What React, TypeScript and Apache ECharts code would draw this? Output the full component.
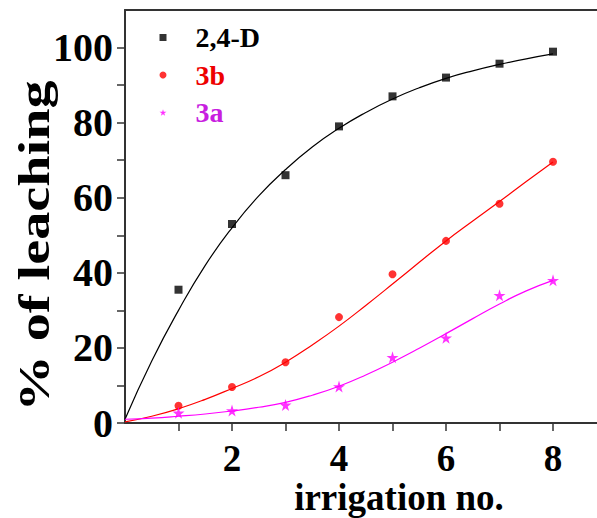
import React, { useEffect, useRef } from "react";
import * as echarts from "echarts";

const irrigation = [1, 2, 3, 4, 5, 6, 7, 8];
const d24 = [35.5, 53, 66, 79, 87, 92, 95.7, 98.9];
const s3b = [4.6, 9.6, 16.2, 28.2, 39.6, 48.5, 58.4, 69.6];
const s3a = [2.7, 3.3, 4.8, 9.7, 17.5, 22.7, 34, 38];

const fitX = [0, 0.5, 1, 1.5, 2, 2.5, 3, 3.5, 4, 4.5, 5, 5.5, 6, 6.5, 7, 7.5, 8];
const fit24 = [1, 16.5, 30, 42, 52, 60.5, 67.5, 73.5, 78.5, 82.7, 86.3, 89.3, 91.8, 93.8, 95.5, 97, 98.3];
const fit3b = [0.3, 1.8, 3.8, 6.3, 9.2, 12.3, 16.2, 20.8, 25.8, 31.3, 37, 42.8, 48.5, 53.8, 59, 64.3, 69.5];
const fit3a = [1, 1.3, 1.8, 2.4, 3.2, 4.2, 5.5, 7.4, 9.8, 12.8, 16.2, 19.9, 23.8, 27.8, 31.7, 35.2, 38];

const xTickValues = [1, 2, 3, 4, 5, 6, 7, 8];
const xLabelValues = [2, 4, 6, 8];
const yTickValues = [0, 10, 20, 30, 40, 50, 60, 70, 80, 90, 100];
const yLabelValues = [0, 20, 40, 60, 80, 100];

const seriesNames = ["2,4-D", "3b", "3a"];
const colors = ["#000000", "#ff0000", "#ff00ff"];
const legendTextColors = ["#000000", "#ee0000", "#c81ee0"];

const STAR = "path://M50,0 L61,35 L98,35 L68,57 L79,91 L50,70 L21,91 L32,57 L2,35 L39,35 Z";
const FONT = "Liberation Serif";
const X_MAX = 8.822;
const AXIS_COLOR = "#333";

export default function App() {
  const ref = useRef<HTMLDivElement>(null);
  useEffect(() => {
    if (!ref.current) return;
    const chart = echarts.init(ref.current, null, { renderer: "svg" });
    const pair = (xs: number[], ys: number[]) => xs.map((x, i) => [x, ys[i]]);
    const legendSymbols = ["rect", "circle", STAR];
    chart.setOption({
      animation: false,
      backgroundColor: "#ffffff",
      grid: {
        left: 125,
        top: 10,
        right: 0,
        bottom: 95,
        show: false,
      },
      xAxis: [
        {
          type: "value",
          min: 0,
          max: X_MAX,
          interval: 1,
          splitLine: { show: false },
          axisLine: { show: true, lineStyle: { color: AXIS_COLOR, width: 2 } },
          axisTick: {
            show: true,
            inside: false,
            length: 8,
            customValues: xTickValues,
            lineStyle: { color: AXIS_COLOR, width: 1.5 },
          },
          axisLabel: {
            customValues: xLabelValues,
            margin: 18,
            color: "#000",
            fontFamily: FONT,
            fontWeight: "bold",
            fontSize: 37,
            lineHeight: 34,
          },
        },
        {
          type: "value",
          position: "top",
          min: 0,
          max: X_MAX,
          splitLine: { show: false },
          axisLine: { show: true, lineStyle: { color: AXIS_COLOR, width: 2 } },
          axisTick: { show: false },
          axisLabel: { show: false },
        },
      ],
      yAxis: {
        type: "value",
        min: 0,
        max: 110,
        interval: 10,
        splitLine: { show: false },
        axisLine: { show: true, lineStyle: { color: AXIS_COLOR, width: 2 } },
        axisTick: {
          show: true,
          inside: false,
          length: 8,
          customValues: yTickValues,
          lineStyle: { color: AXIS_COLOR, width: 1.5 },
        },
        axisLabel: {
          customValues: yLabelValues,
          margin: 12,
          color: "#000",
          fontFamily: FONT,
          fontWeight: "bold",
          fontSize: 40,
        },
      },
      legend: {
        orient: "vertical",
        left: 154.5,
        top: 18.5,
        itemWidth: 7,
        itemHeight: 7,
        itemGap: 9.5,
        data: seriesNames.map((n, i) => ({
          name: n,
          icon: legendSymbols[i],
          textStyle: { color: legendTextColors[i] },
        })),
        textStyle: {
          fontFamily: FONT,
          fontWeight: "bold",
          fontSize: 28,
          lineHeight: 27,
          padding: [0, 0, 0, 24],
        },
      },
      graphic: [
        {
          type: "text",
          x: 34,
          y: 246,
          rotation: Math.PI / 2,
          scaleX: 1.25,
          style: {
            text: "% of leaching",
            fontFamily: FONT,
            fontWeight: "bold",
            fontSize: 45,
            fill: "#000",
            align: "center",
            verticalAlign: "middle",
          },
        },
        {
          type: "text",
          x: 399,
          y: 497,
          style: {
            text: "irrigation no.",
            fontFamily: FONT,
            fontWeight: "bold",
            fontSize: 37,
            lineHeight: 34,
            fill: "#000",
            align: "center",
            verticalAlign: "middle",
          },
        },
      ],
      series: [
        {
          name: "fit-2,4-D",
          type: "line",
          data: pair(fitX, fit24),
          smooth: true,
          showSymbol: false,
          lineStyle: { color: colors[0], width: 1.2 },
          z: 2,
        },
        {
          name: "fit-3b",
          type: "line",
          data: pair(fitX, fit3b),
          smooth: true,
          showSymbol: false,
          lineStyle: { color: colors[1], width: 1.2 },
          z: 2,
        },
        {
          name: "fit-3a",
          type: "line",
          data: pair(fitX, fit3a),
          smooth: true,
          showSymbol: false,
          lineStyle: { color: colors[2], width: 1.2 },
          z: 2,
        },
        {
          name: seriesNames[0],
          type: "scatter",
          symbol: "rect",
          symbolSize: 8,
          itemStyle: { color: colors[0] },
          data: pair(irrigation, d24),
          z: 3,
        },
        {
          name: seriesNames[1],
          type: "scatter",
          symbol: "circle",
          symbolSize: 8,
          itemStyle: { color: colors[1] },
          data: pair(irrigation, s3b),
          z: 3,
        },
        {
          name: seriesNames[2],
          type: "scatter",
          symbol: STAR,
          symbolSize: 12,
          itemStyle: { color: colors[2] },
          data: pair(irrigation, s3a),
          z: 3,
        },
      ],
    });
    return () => chart.dispose();
  }, []);
  return (
    <div
      ref={ref}
      style={{ position: "fixed", left: 0, top: 0, width: 597, height: 518 }}
    />
  );
}
